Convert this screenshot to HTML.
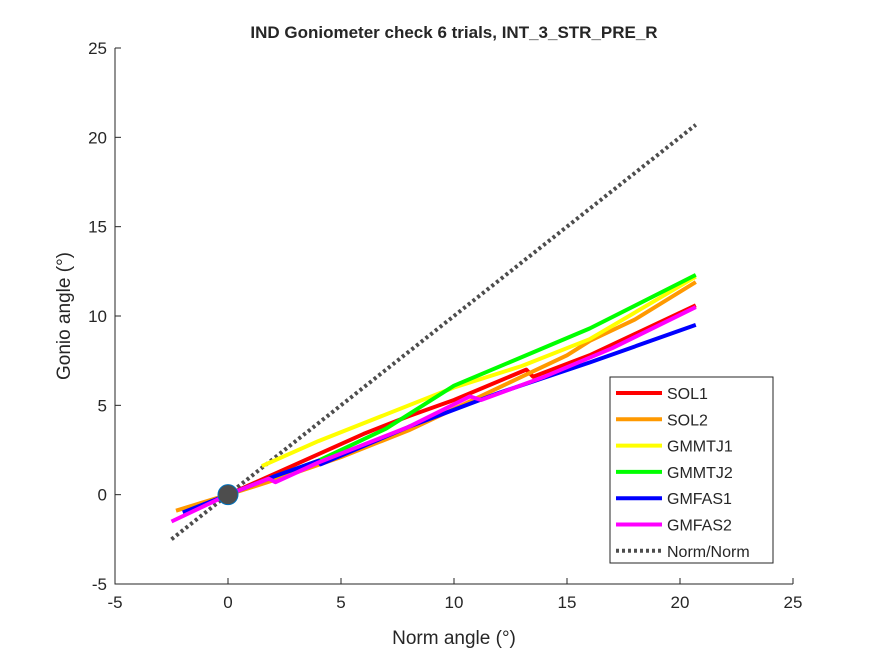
<!DOCTYPE html>
<html><head><meta charset="utf-8"><style>
body{margin:0;background:#fff}
svg text{font-family:"Liberation Sans",Arial,sans-serif;fill:#262626}
</style></head><body>
<svg id="chart" width="875" height="656" viewBox="0 0 875 656" xmlns="http://www.w3.org/2000/svg">
<rect width="875" height="656" fill="#fff"/>
<g id="plot"></g>
</svg>
<script>
const xTicks=[-5,0,5,10,15,20,25];
const yTicks=[-5,0,5,10,15,20,25];
const seriesNames=["SOL1","SOL2","GMMTJ1","GMMTJ2","GMFAS1","GMFAS2"];
const seriesColors=["#ff0000","#ff9900","#ffff00","#00ff00","#0000ff","#ff00ff"];
const sol1=[[0,0],[3,1.7],[6,3.4],[8,4.4],[10,5.3],[13.2,7.0],[13.5,6.6],[16,7.8],[20.7,10.6]];
const sol2=[[-2.3,-0.9],[0,0],[2,0.8],[5,2.1],[8,3.6],[11,5.4],[13,6.6],[15,7.8],[16,8.6],[18,9.8],[20.7,11.9]];
const gmmtj1=[[1.5,1.6],[4,3.0],[7,4.5],[10,6.0],[13,7.2],[16,8.7],[20.7,12.2]];
const gmmtj2=[[0,0],[2,1.0],[4,1.9],[7,3.7],[10,6.1],[13,7.7],[16,9.3],[20.7,12.3]];
const gmfas1=[[-2,-1],[0,0],[2,1.0],[4,1.9],[4.1,1.7],[8,3.8],[12,5.7],[16,7.4],[20.7,9.5]];
const gmfas2=[[-2.5,-1.5],[0,0],[1.8,0.9],[2.1,0.7],[4,1.8],[8,3.8],[10.7,5.5],[11.2,5.3],[14,6.6],[17,8.2],[20.7,10.5]];
const normLine=[[-2.5,-2.5],[20.7,20.7]];
const allSeries=[sol1,sol2,gmmtj1,gmmtj2,gmfas1,gmfas2];

const L=115,R=793,T=48,B=584,xmin=-5,xmax=25,ymin=-5,ymax=25;
const sx=v=>L+(v-xmin)/(xmax-xmin)*(R-L);
const sy=v=>B-(v-ymin)/(ymax-ymin)*(B-T);
const NS="http://www.w3.org/2000/svg";
const g=document.getElementById('plot');
function mk(tag,attrs,parent){const e=document.createElementNS(NS,tag);for(const k in attrs)e.setAttribute(k,attrs[k]);(parent||g).appendChild(e);return e;}

const pts=a=>a.map(p=>sx(p[0]).toFixed(1)+','+sy(p[1]).toFixed(1)).join(' ');
const norm=mk('polyline',{points:pts(normLine),fill:'none',stroke:'#4d4d4d','stroke-width':4,'stroke-dasharray':'3,3'});


allSeries.forEach((s,i)=>{
  const pl=mk('polyline',{points:pts(s),fill:'none',stroke:seriesColors[i],'stroke-width':4,'stroke-linejoin':'round'});
  
  
});
const origin=mk('circle',{cx:sx(0),cy:sy(0),r:10,fill:'#4d4d4d',stroke:'#0072bd','stroke-width':1});



const ax=mk('path',{d:`M${L},${T}V${B}H${R}`,fill:'none',stroke:'#262626','stroke-width':1});


xTicks.forEach(t=>{
  const x=sx(t);
  const tk=mk('path',{d:`M${x},${B}v-6`,stroke:'#262626'});
  
  
  const tl=mk('text',{x:x,y:B+24,'text-anchor':'middle','font-size':17});
  tl.textContent=t;
  
  
});
yTicks.forEach(t=>{
  const y=sy(t);
  const tk=mk('path',{d:`M${L},${y}h6`,stroke:'#262626'});
  
  
  const tl=mk('text',{x:L-8,y:y+6,'text-anchor':'end','font-size':17});
  tl.textContent=t;
  
  
});
const title=mk('text',{x:454,y:38,'text-anchor':'middle','font-size':17,'font-weight':'bold',fill:'#000'});
title.textContent='IND Goniometer check 6 trials, INT_3_STR_PRE_R';


const xt=mk('text',{x:454,y:644,'text-anchor':'middle','font-size':19});
xt.textContent='Norm angle (°)';


const yt=mk('text',{x:0,y:0,'text-anchor':'middle','font-size':19,transform:'translate(70,316) rotate(-90)'});
yt.textContent='Gonio angle (°)';



const lg=mk('g',{});


mk('rect',{x:610,y:377,width:163,height:186,fill:'#fff',stroke:'#262626','stroke-width':1},lg);
const names=seriesNames.concat(['Norm/Norm']);
names.forEach((n,i)=>{
  const y=393+i*26.3;
  const e=mk('g',{},lg);
  
  
  const dash=i===6;
  mk('line',{x1:616,x2:662,y1:y,y2:y,stroke:dash?'#4d4d4d':seriesColors[i],'stroke-width':4,'stroke-dasharray':dash?'3,3':'none'},e);
  const t=mk('text',{x:667,y:y+6,'font-size':16,fill:'#000'},e);
  t.textContent=n;
});
</script>
</body></html>
